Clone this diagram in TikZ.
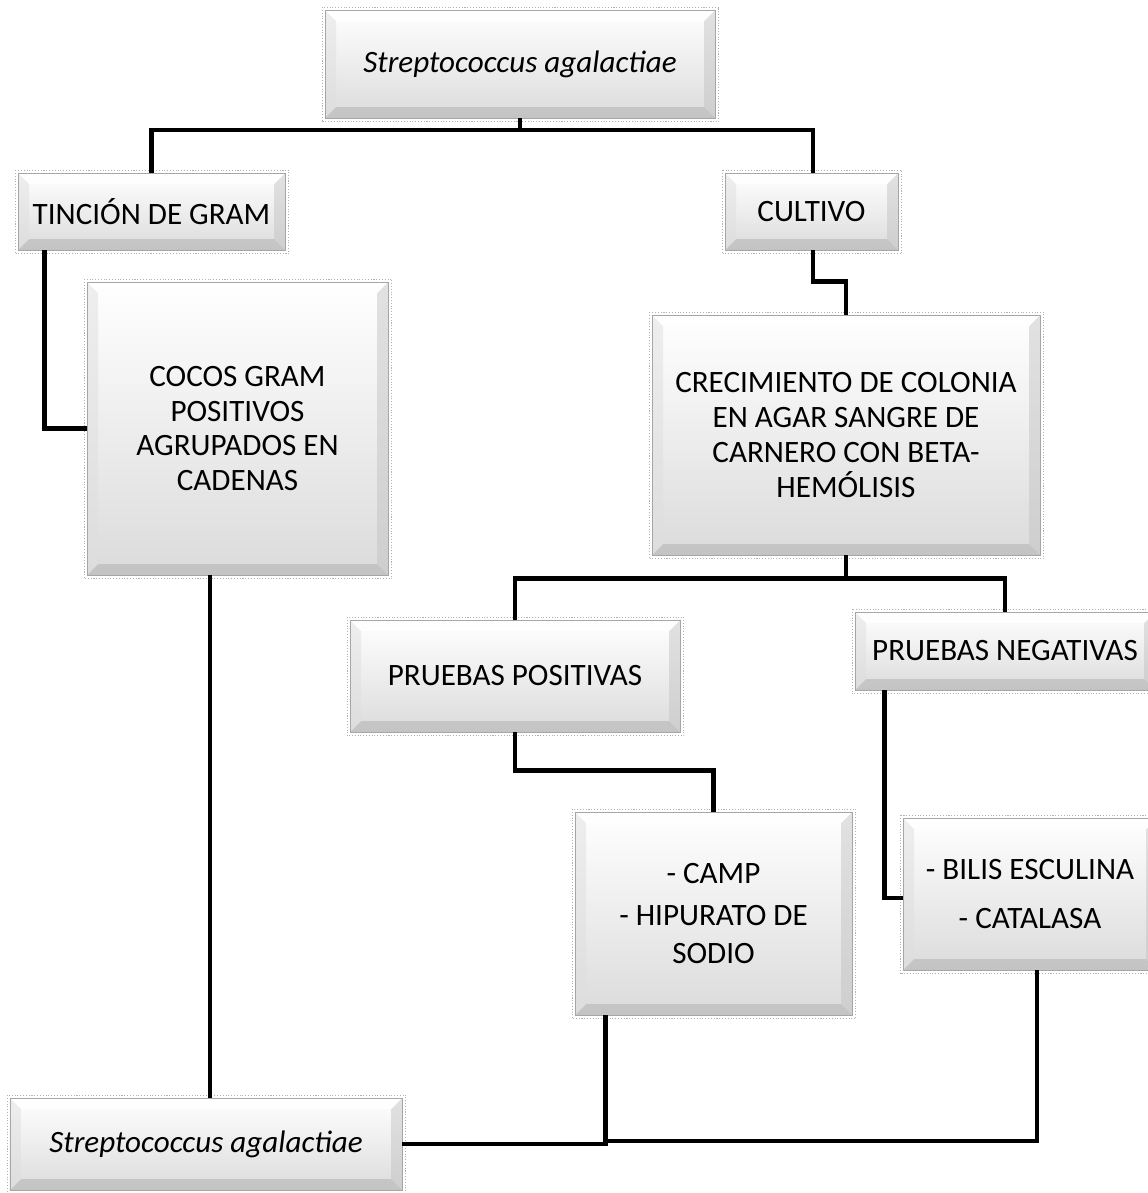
\documentclass[tikz,border=0pt]{standalone}
\usepackage{fontspec}
\setmainfont{Carlito}
\usetikzlibrary{calc}
\newcommand{\boxfont}{\fontsize{17.7}{19.8}\selectfont}
\newlength{\bv}
\setlength{\bv}{0.22cm}
\tikzset{
  bx/.style={draw=gray!70, line width=0.5pt, top color=white, bottom color=gray!28,
    inner sep=0pt, align=center, font=\boxfont,
    path picture={
      \path (path picture bounding box.south west) coordinate (pSW)
            (path picture bounding box.north east) coordinate (pNE);
      \fill[gray!60, opacity=.55] (pSW) -- (pSW -| pNE) -- ([shift={(-\bv,\bv)}]pSW -| pNE) -- ([shift={(\bv,\bv)}]pSW) -- cycle;
      \fill[gray!50, opacity=.45] (pSW -| pNE) -- (pNE) -- ([shift={(-\bv,-\bv)}]pNE) -- ([shift={(-\bv,\bv)}]pSW -| pNE) -- cycle;
      \fill[white, opacity=.8] (pNE) -- (pNE -| pSW) -- ([shift={(\bv,-\bv)}]pNE -| pSW) -- ([shift={(-\bv,-\bv)}]pNE) -- cycle;
      \fill[gray!25, opacity=.5] (pNE -| pSW) -- (pSW) -- ([shift={(\bv,\bv)}]pSW) -- ([shift={(\bv,-\bv)}]pNE -| pSW) -- cycle;
    }},
  link/.style={line width=2.8pt, black},
  halo/.style={gray!60, densely dotted, line width=0.6pt}
}
\begin{document}
\begin{tikzpicture}
\useasboundingbox (0,0) rectangle (22.96,-23.86);
\clip (0,0) rectangle (22.96,-23.86);
\fill[white] (0,0) rectangle (22.96,-23.86);

% nodes
\node[bx, minimum width=7.8cm, minimum height=2.16cm] (top) at (10.40,-1.28) {\textit{Streptococcus agalactiae}};
\node[bx, minimum width=5.34cm, minimum height=1.54cm] (tincion) at (3.03,-4.23) {TINCIÓN DE GRAM};
\node[bx, minimum width=3.46cm, minimum height=1.54cm] (cultivo) at (16.23,-4.23) {CULTIVO};
\node[bx, minimum width=6.02cm, minimum height=5.86cm] (cocos) at (4.75,-8.57) {COCOS GRAM\\POSITIVOS\\AGRUPADOS EN\\CADENAS};
\node[bx, minimum width=7.76cm, minimum height=4.80cm] (crec) at (16.92,-8.70) {CRECIMIENTO DE COLONIA\\EN AGAR SANGRE DE\\CARNERO CON BETA-\\HEMÓLISIS};
\node[bx, minimum width=6.60cm, minimum height=2.24cm] (ppos) at (10.30,-13.52) {PRUEBAS POSITIVAS};
\node[bx, minimum width=6.0cm, minimum height=1.56cm] (pneg) at (20.10,-13.02) {PRUEBAS NEGATIVAS};
\node[bx, minimum width=5.54cm, minimum height=4.06cm] (camp) at (14.27,-18.27) {- CAMP\\[0.14cm]- HIPURATO DE\\[0.06cm]SODIO};
\node[bx, minimum width=5.08cm, minimum height=3.04cm] (bilis) at (20.60,-17.88) {- BILIS ESCULINA\\[0.3cm]- CATALASA};
\node[bx, minimum width=7.84cm, minimum height=1.84cm] (bottom) at (4.12,-22.88) {\textit{Streptococcus agalactiae}};

% dotted halos
\foreach \n in {top,tincion,cultivo,cocos,crec,ppos,pneg,camp,bilis,bottom}
  \draw[halo] ([shift={(-0.05,0.05)}]\n.north west) rectangle ([shift={(0.07,-0.07)}]\n.south east);

% connectors
\coordinate (j1) at (10.38,-2.60);
\draw[link] (top.south) -- (top.south |- j1);
\draw[link] (top.south |- j1) -| (tincion.north);
\draw[link] (top.south |- j1) -| ([xshift=0.03cm]cultivo.north);
\draw[link] ([xshift=0.54cm]tincion.south west) |- (cocos.west);
\draw[link] ([xshift=0.03cm]cultivo.south) -- ++(0,-0.62) -| (crec.north);
\draw[link] (crec.south) -- ++(0,-0.46) coordinate (j2);
\draw[link] (j2) -| (ppos.north);
\draw[link] (j2) -| (pneg.north);
\draw[link] (ppos.south) -- ++(0,-0.76) -| (camp.north);
\draw[link] ([xshift=0.6cm]pneg.south west) |- ([yshift=-0.08cm]bilis.west);
\draw[link] ([xshift=0.08cm]bottom.north) -- ([xshift=0.08cm]bottom.north |- cocos.south);
\draw[link] (bottom.east) -| ([xshift=0.62cm]camp.south west);
\draw[link] ([xshift=0.62cm,yshift=0.06cm]camp.south west |- bottom.east) -| ([xshift=0.14cm]bilis.south);
\end{tikzpicture}
\end{document}
